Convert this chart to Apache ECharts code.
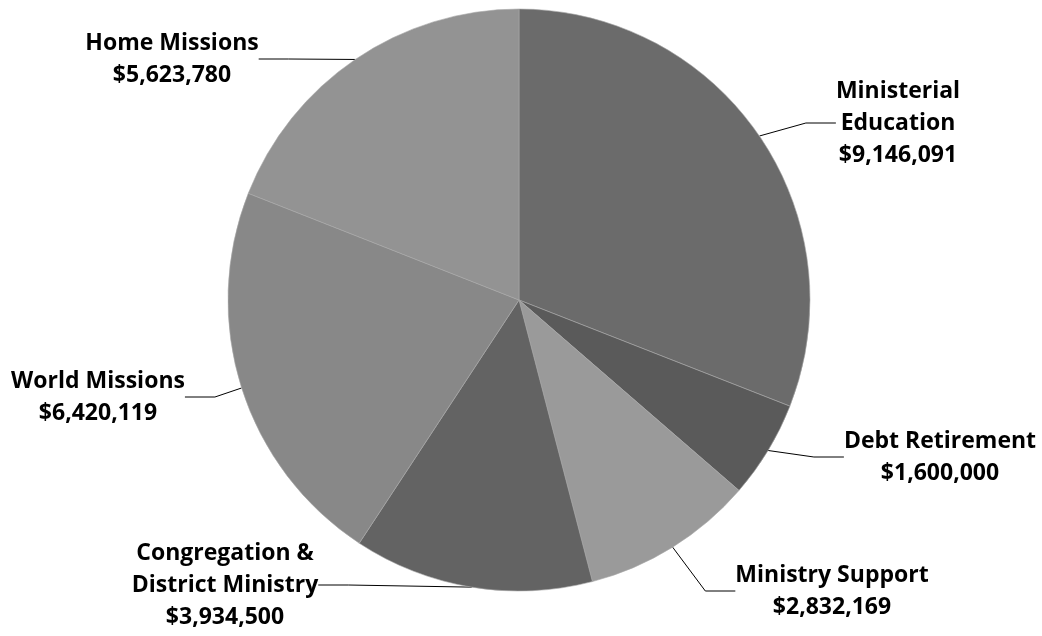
<!DOCTYPE html>
<html style="height: 100%">
<head>
<meta charset="utf-8">
<script src="https://cdn.jsdelivr.net/npm/echarts@6/dist/echarts.min.js"></script>
</head>
<body style="height: 100%; margin: 0; background: #fff;">
<div id="container" style="height: 100%"></div>
<script type="text/javascript">
var names = ['Ministerial\nEducation', 'Debt Retirement', 'Ministry Support', 'Congregation &\nDistrict Ministry', 'World Missions', 'Home Missions'];
var values = [9146091, 1600000, 2832169, 3934500, 6420119, 5623780];
var colors = ['#6b6b6b', '#5a5a5a', '#9a9a9a', '#636363', '#888888', '#939393'];
// label centres (layout only)
var labelPos = [[898, 123], [940, 457], [832, 591], [225, 585], [98, 397], [172, 59]];

var dom = document.getElementById('container');
var myChart = echarts.init(dom);

var data = [];
for (var i = 0; i < names.length; i++) {
    data.push({ name: names[i], value: values[i], itemStyle: { color: colors[i] } });
}

var option = {
    animation: false,
    series: [{
        type: 'pie',
        center: [519, 300],
        radius: 291,
        startAngle: 90,
        clockwise: true,
        data: data,
        itemStyle: { borderColor: '#a8a8a8', borderWidth: 0.6 },
        label: {
            show: true,
            position: 'outside',
            color: '#000',
            fontFamily: 'Open Sans',
            fontWeight: 'bold',
            fontSize: 23,
            lineHeight: 32,
            align: 'center',
            formatter: function (p) {
                return p.name + '\n$' + p.value.toLocaleString('en-US');
            }
        },
        labelLine: { show: true, lineStyle: { color: '#000', width: 1 } },
        labelLayout: function (params) {
            var pos = labelPos[params.dataIndex];
            return { x: pos[0], y: pos[1], align: 'center', verticalAlign: 'middle' };
        }
    }]
};
myChart.setOption(option);
</script>
</body>
</html>
